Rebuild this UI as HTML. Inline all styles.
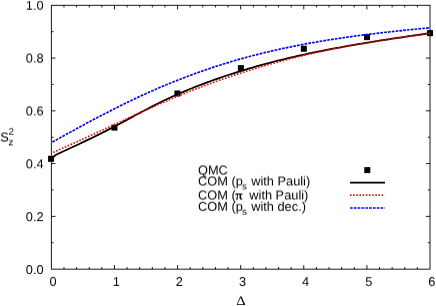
<!DOCTYPE html>
<html><head><meta charset="utf-8"><title>chart</title>
<style>
html,body{margin:0;padding:0;background:#fff;}
body{width:436px;height:306px;overflow:hidden;position:relative;}
svg{display:block;position:absolute;left:0;top:0;will-change:transform;}
text{font-family:"Liberation Sans",sans-serif;font-size:12.8px;fill:#000;text-rendering:geometricPrecision;}
.sub{font-size:9.8px;}
.sym{font-family:"Liberation Serif",serif;}
</style></head><body>
<svg width="436" height="306" viewBox="0 0 436 306">
<rect width="436" height="306" fill="#fff"/>
<rect x="51.35" y="5.3" width="378.65" height="263.84999999999997" fill="none" stroke="#000" stroke-width="0.9"/>
<path d="M63.97,269.15 v-2.15 M63.97,5.3 v2.15 M76.59,269.15 v-2.15 M76.59,5.3 v2.15 M89.22,269.15 v-2.15 M89.22,5.3 v2.15 M101.84,269.15 v-2.15 M101.84,5.3 v2.15 M114.46,269.15 v-4.1 M114.46,5.3 v4.1 M127.08,269.15 v-2.15 M127.08,5.3 v2.15 M139.70,269.15 v-2.15 M139.70,5.3 v2.15 M152.32,269.15 v-2.15 M152.32,5.3 v2.15 M164.94,269.15 v-2.15 M164.94,5.3 v2.15 M177.57,269.15 v-4.1 M177.57,5.3 v4.1 M190.19,269.15 v-2.15 M190.19,5.3 v2.15 M202.81,269.15 v-2.15 M202.81,5.3 v2.15 M215.43,269.15 v-2.15 M215.43,5.3 v2.15 M228.05,269.15 v-2.15 M228.05,5.3 v2.15 M240.67,269.15 v-4.1 M240.67,5.3 v4.1 M253.30,269.15 v-2.15 M253.30,5.3 v2.15 M265.92,269.15 v-2.15 M265.92,5.3 v2.15 M278.54,269.15 v-2.15 M278.54,5.3 v2.15 M291.16,269.15 v-2.15 M291.16,5.3 v2.15 M303.78,269.15 v-4.1 M303.78,5.3 v4.1 M316.41,269.15 v-2.15 M316.41,5.3 v2.15 M329.03,269.15 v-2.15 M329.03,5.3 v2.15 M341.65,269.15 v-2.15 M341.65,5.3 v2.15 M354.27,269.15 v-2.15 M354.27,5.3 v2.15 M366.89,269.15 v-4.1 M366.89,5.3 v4.1 M379.51,269.15 v-2.15 M379.51,5.3 v2.15 M392.14,269.15 v-2.15 M392.14,5.3 v2.15 M404.76,269.15 v-2.15 M404.76,5.3 v2.15 M417.38,269.15 v-2.15 M417.38,5.3 v2.15 M51.35,242.76 h2.15 M430.0,242.76 h-2.15 M51.35,216.38 h4.1 M430.0,216.38 h-4.1 M51.35,189.99 h2.15 M430.0,189.99 h-2.15 M51.35,163.61 h4.1 M430.0,163.61 h-4.1 M51.35,137.22 h2.15 M430.0,137.22 h-2.15 M51.35,110.84 h4.1 M430.0,110.84 h-4.1 M51.35,84.45 h2.15 M430.0,84.45 h-2.15 M51.35,58.07 h4.1 M430.0,58.07 h-4.1 M51.35,31.69 h2.15 M430.0,31.69 h-2.15" stroke="#000" stroke-width="0.9" fill="none"/>
<rect x="48.05" y="155.80" width="6.0" height="6.0" fill="#000"/><rect x="111.45" y="124.60" width="6.0" height="6.0" fill="#000"/><rect x="174.40" y="90.45" width="6.0" height="6.0" fill="#000"/><rect x="237.90" y="65.10" width="6.0" height="6.0" fill="#000"/><rect x="300.85" y="45.75" width="6.0" height="6.0" fill="#000"/><rect x="364.00" y="34.10" width="6.0" height="6.0" fill="#000"/><rect x="427.05" y="30.15" width="6.0" height="6.0" fill="#000"/><rect x="364.30" y="167.10" width="6.0" height="6.0" fill="#000"/>
<g transform="translate(0,0.3)"><path d="M51.50,158.40 L53.50,156.60 L56.00,154.46 L59.78,152.69 L63.56,150.93 L67.33,149.17 L71.11,147.42 L74.89,145.66 L78.67,143.90 L82.44,142.13 L86.22,140.34 L90.00,138.53 L93.78,136.69 L97.56,134.84 L101.33,132.96 L105.11,131.05 L108.89,129.10 L112.67,127.13 L116.44,125.14 L120.22,123.13 L124.00,121.11 L127.78,119.08 L131.56,117.04 L135.33,115.01 L139.11,112.99 L142.89,110.98 L146.67,108.99 L150.44,107.03 L154.22,105.09 L158.00,103.19 L161.78,101.32 L165.56,99.50 L169.33,97.73 L173.11,95.99 L176.89,94.30 L180.67,92.64 L184.44,91.03 L188.22,89.45 L192.00,87.91 L195.78,86.40 L199.56,84.93 L203.33,83.49 L207.11,82.08 L210.89,80.70 L214.67,79.34 L218.44,78.02 L222.22,76.72 L226.00,75.45 L229.78,74.20 L233.56,72.98 L237.33,71.79 L241.11,70.61 L244.89,69.47 L248.67,68.34 L252.44,67.24 L256.22,66.16 L260.00,65.11 L263.78,64.07 L267.56,63.06 L271.33,62.07 L275.11,61.10 L278.89,60.14 L282.67,59.21 L286.44,58.30 L290.22,57.40 L294.00,56.52 L297.78,55.66 L301.56,54.82 L305.33,53.99 L309.11,53.18 L312.89,52.38 L316.67,51.60 L320.44,50.84 L324.22,50.08 L328.00,49.35 L331.78,48.62 L335.56,47.91 L339.33,47.21 L343.11,46.52 L346.89,45.84 L350.67,45.18 L354.44,44.52 L358.22,43.88 L362.00,43.24 L365.78,42.61 L369.56,41.99 L373.33,41.38 L377.11,40.78 L380.89,40.18 L384.67,39.60 L388.44,39.01 L392.22,38.43 L396.00,37.86 L399.78,37.29 L403.56,36.73 L407.33,36.17 L411.11,35.62 L414.89,35.06 L418.67,34.51 L422.44,33.96 L426.22,33.41 L430.00,32.87" stroke="#000" stroke-width="1.8" fill="none"/>
<path d="M51.50,152.82 L55.32,151.15 L59.15,149.46 L62.97,147.75 L66.79,146.04 L70.62,144.33 L74.44,142.60 L78.26,140.86 L82.09,139.12 L85.91,137.37 L89.73,135.62 L93.56,133.86 L97.38,132.10 L101.20,130.34 L105.03,128.57 L108.85,126.80 L112.67,125.03 L116.49,123.26 L120.32,121.49 L124.14,119.73 L127.96,117.96 L131.79,116.20 L135.61,114.44 L139.43,112.69 L143.26,110.95 L147.08,109.22 L150.90,107.50 L154.73,105.79 L158.55,104.10 L162.37,102.42 L166.20,100.76 L170.02,99.12 L173.84,97.51 L177.67,95.91 L181.49,94.34 L185.31,92.80 L189.14,91.28 L192.96,89.78 L196.78,88.30 L200.61,86.85 L204.43,85.41 L208.25,84.00 L212.08,82.61 L215.90,81.24 L219.72,79.88 L223.55,78.55 L227.37,77.24 L231.19,75.94 L235.02,74.67 L238.84,73.41 L242.66,72.17 L246.48,70.96 L250.31,69.76 L254.13,68.58 L257.95,67.42 L261.78,66.28 L265.60,65.16 L269.42,64.06 L273.25,62.98 L277.07,61.92 L280.89,60.88 L284.72,59.86 L288.54,58.86 L292.36,57.87 L296.19,56.91 L300.01,55.97 L303.83,55.04 L307.66,54.14 L311.48,53.25 L315.30,52.39 L319.13,51.54 L322.95,50.72 L326.77,49.91 L330.60,49.12 L334.42,48.35 L338.24,47.60 L342.07,46.87 L345.89,46.15 L349.71,45.45 L353.54,44.76 L357.36,44.08 L361.18,43.42 L365.01,42.77 L368.83,42.14 L372.65,41.51 L376.47,40.90 L380.30,40.29 L384.12,39.70 L387.94,39.11 L391.77,38.54 L395.59,37.97 L399.41,37.40 L403.24,36.85 L407.06,36.29 L410.88,35.75 L414.71,35.20 L418.53,34.66 L422.35,34.13 L426.18,33.59 L430.00,33.06" stroke="#f00" stroke-width="1.8" fill="none" stroke-dasharray="1.5 1.67" stroke-dashoffset="1.2"/>
<path d="M51.50,142.27 L55.32,140.14 L59.15,138.01 L62.97,135.89 L66.79,133.78 L70.62,131.68 L74.44,129.59 L78.26,127.50 L82.09,125.43 L85.91,123.37 L89.73,121.33 L93.56,119.30 L97.38,117.28 L101.20,115.28 L105.03,113.29 L108.85,111.32 L112.67,109.37 L116.49,107.44 L120.32,105.53 L124.14,103.65 L127.96,101.78 L131.79,99.94 L135.61,98.12 L139.43,96.32 L143.26,94.55 L147.08,92.81 L150.90,91.10 L154.73,89.41 L158.55,87.75 L162.37,86.12 L166.20,84.51 L170.02,82.94 L173.84,81.39 L177.67,79.87 L181.49,78.37 L185.31,76.90 L189.14,75.46 L192.96,74.05 L196.78,72.66 L200.61,71.30 L204.43,69.97 L208.25,68.66 L212.08,67.38 L215.90,66.13 L219.72,64.90 L223.55,63.69 L227.37,62.52 L231.19,61.37 L235.02,60.24 L238.84,59.14 L242.66,58.06 L246.48,57.01 L250.31,55.99 L254.13,54.99 L257.95,54.01 L261.78,53.06 L265.60,52.12 L269.42,51.22 L273.25,50.33 L277.07,49.46 L280.89,48.62 L284.72,47.80 L288.54,46.99 L292.36,46.21 L296.19,45.44 L300.01,44.70 L303.83,43.97 L307.66,43.26 L311.48,42.57 L315.30,41.90 L319.13,41.24 L322.95,40.60 L326.77,39.97 L330.60,39.36 L334.42,38.77 L338.24,38.19 L342.07,37.62 L345.89,37.07 L349.71,36.53 L353.54,36.00 L357.36,35.49 L361.18,34.98 L365.01,34.49 L368.83,34.01 L372.65,33.54 L376.47,33.08 L380.30,32.63 L384.12,32.19 L387.94,31.76 L391.77,31.34 L395.59,30.92 L399.41,30.51 L403.24,30.11 L407.06,29.72 L410.88,29.33 L414.71,28.95 L418.53,28.57 L422.35,28.20 L426.18,27.83 L430.00,27.47" stroke="#00f" stroke-width="1.7" fill="none" stroke-dasharray="2.7 1.13" stroke-dashoffset="2.76"/></g>
<path d="M350,182.7 H385" stroke="#000" stroke-width="1.8"/>
<path d="M350,195.2 H385" stroke="#f00" stroke-width="1.8" stroke-dasharray="1.5 1.67"/>
<path d="M350,208.0 H385" stroke="#00f" stroke-width="1.7" stroke-dasharray="2.7 1.13"/>
</svg>
<svg class="ov" style="transform:translate3d(0,0.0px,0) rotate(0.001deg)" width="436" height="306" viewBox="0 0 436 306">
<text x="43.6" y="274" text-anchor="end">0.0</text>
<text class="sym" transform="translate(236.3,305) scale(1.14,1)" x="0" y="0" font-size="13">Δ</text>
</svg>
<svg class="ov" style="transform:translate3d(0,0.14px,0) rotate(0.001deg)" width="436" height="306" viewBox="0 0 436 306">
<text x="43.6" y="221" text-anchor="end">0.2</text>
</svg>
<svg class="ov" style="transform:translate3d(0,0.28px,0) rotate(0.001deg)" width="436" height="306" viewBox="0 0 436 306">
<text x="43.6" y="168" text-anchor="end">0.4</text>
</svg>
<svg class="ov" style="transform:translate3d(0,0.42px,0) rotate(0.001deg)" width="436" height="306" viewBox="0 0 436 306">
<text x="43.6" y="115" text-anchor="end">0.6</text>
</svg>
<svg class="ov" style="transform:translate3d(0,0.45px,0) rotate(0.001deg)" width="436" height="306" viewBox="0 0 436 306">
<text x="0.2" y="141">S</text><text class="sub" x="8.6" y="145">z</text>
<text x="198.0" y="174">QMC</text>
<text x="198.0" y="185">COM (p</text><text class="sub" x="242.0" y="189">s</text><text x="251.2" y="185">with Pauli)</text>
<text x="198.0" y="199">COM (</text><text class="sym" transform="translate(235.5,199.2) scale(1.07,0.98)" x="0" y="0" font-size="13" stroke="#000" stroke-width="0.35">π</text><text x="249.3" y="199">with Pauli)</text>
</svg>
<svg class="ov" style="transform:translate3d(0,0.56px,0) rotate(0.001deg)" width="436" height="306" viewBox="0 0 436 306">
<text x="43.6" y="62" text-anchor="end">0.8</text>
</svg>
<svg class="ov" style="transform:translate3d(0,0.7px,0) rotate(0.001deg)" width="436" height="306" viewBox="0 0 436 306">
<text x="43.6" y="9" text-anchor="end">1.0</text>
</svg>
<svg class="ov" style="transform:translate3d(0,0.8px,0) rotate(0.001deg)" width="436" height="306" viewBox="0 0 436 306">
<text class="sub" x="8.6" y="134">2</text>
<text x="198.0" y="210">COM (p</text><text class="sub" x="242.0" y="214">s</text><text x="251.2" y="210">with dec.)</text>
</svg>
<svg class="ov" style="transform:translate3d(0,0.9px,0) rotate(0.001deg)" width="436" height="306" viewBox="0 0 436 306">
<text x="53.15" y="285" text-anchor="middle">0</text>
<text x="116.26" y="285" text-anchor="middle">1</text>
<text x="179.37" y="285" text-anchor="middle">2</text>
<text x="242.47" y="285" text-anchor="middle">3</text>
<text x="305.58" y="285" text-anchor="middle">4</text>
<text x="368.69" y="285" text-anchor="middle">5</text>
<text x="431.80" y="285" text-anchor="middle">6</text>
</svg>
</body></html>
